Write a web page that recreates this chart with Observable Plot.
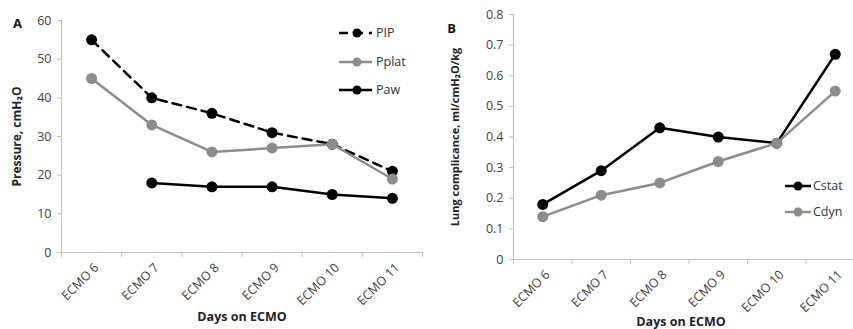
<!DOCTYPE html>
<html><head><meta charset="utf-8">
<script src="https://cdn.jsdelivr.net/npm/d3@7"></script>
<script src="https://cdn.jsdelivr.net/npm/@observablehq/plot@0.6"></script>
<style>
body{margin:0;overflow:hidden;background:#fff;font-family:"Open Sans",sans-serif;}
#wrap{position:relative;width:853px;height:329px;overflow:hidden;background:#fff;}
.panel{position:absolute;top:0;}
.leg{position:absolute;font-size:12.5px;color:#333;display:flex;align-items:center;line-height:14px;}
.leg svg{display:block;margin-right:2px;}
</style></head><body><div id="wrap"></div>
<script>
const days = ["ECMO 6", "ECMO 7", "ECMO 8", "ECMO 9", "ECMO 10", "ECMO 11"];
const pip = [55, 40, 36, 31, 28, 21];
const pplat = [45, 33, 26, 27, 28, 19];
const paw = [null, 18, 17, 17, 15, 14];
const cstat = [0.18, 0.29, 0.43, 0.40, 0.38, 0.67];
const cdyn = [0.14, 0.21, 0.25, 0.32, 0.38, 0.55];
const pressureTicks = [0, 10, 20, 30, 40, 50, 60];
const complianceTicks = [0, 0.1, 0.2, 0.3, 0.4, 0.5, 0.6, 0.7, 0.8];

const BLACK = "#000", GRAY = "#8c8c8c", AXIS = "#bfbfbf", TXT = "#404040";
const FONT = "Open Sans, sans-serif";

function rows(vals) {
  return vals.map((v, i) => ({i, day: days[i], v})).filter(d => d.v != null);
}

function seriesMarks(vals, color, dash) {
  const r = rows(vals);
  return [
    Plot.line(r, {x: d => d.i + 0.5, y: "v", stroke: color, strokeWidth: 2.5, strokeDasharray: dash}),
    Plot.dot(r, {x: d => d.i + 0.5, y: "v", r: 5.5, fill: color})
  ];
}

function frameMarks(ticks, tickFmt) {
  return [
    Plot.ruleX([0], {stroke: AXIS}),
    Plot.ruleY([0], {stroke: AXIS}),
    Plot.axisY({ticks, tickSize: 4, stroke: AXIS, fill: TXT, tickPadding: 6, label: null, tickFormat: tickFmt}),
    Plot.axisX({ticks: d3.range(days.length + 1), tickSize: 5, stroke: AXIS, tickFormat: () => "", label: null}),
    Plot.axisX({ticks: days.map((d, i) => i + 0.5), tickFormat: v => days[Math.floor(v)], tickSize: 0,
      tickRotate: -45, tickPadding: 9, dx: 5, dy: 4, fill: TXT, label: null})
  ];
}

const wrap = document.getElementById("wrap");

const A = Plot.plot({
  width: 430, height: 329, marginLeft: 61, marginTop: 20, marginBottom: 77, marginRight: 8,
  style: {fontFamily: FONT, fontSize: "12.5px", color: TXT, background: "transparent", overflow: "visible"},
  x: {type: "linear", domain: [0, days.length]},
  y: {domain: [0, 60]},
  marks: [
    ...frameMarks(pressureTicks, d => String(d)),
    ...seriesMarks(pip, BLACK, "9,6"),
    ...seriesMarks(pplat, GRAY),
    ...seriesMarks(paw, BLACK),
    Plot.text(["Pressure, cmH₂O"], {text: d => d, frameAnchor: "left", textAnchor: "middle", dx: -44, rotate: -90, fontWeight: "bold", fontSize: 12, fill: "#222"}),
    Plot.text(["Days on ECMO"], {text: d => d, frameAnchor: "bottom", textAnchor: "middle", dy: 68, fontWeight: "bold", fontSize: 12.5, fill: "#222"}),
    Plot.text(["A"], {text: d => d, frameAnchor: "top-left", textAnchor: "middle", dx: -44, dy: -2, fontWeight: "bold", fontSize: 13, fill: "#111"})
  ]
});
A.classList.add("panel"); A.style.left = "0px";
wrap.appendChild(A);

const B = Plot.plot({
  width: 443, height: 329, marginLeft: 90, marginTop: 14, marginBottom: 70, marginRight: 2,
  style: {fontFamily: FONT, fontSize: "12.5px", color: TXT, background: "transparent", overflow: "visible"},
  x: {type: "linear", domain: [0, days.length]},
  y: {domain: [0, 0.8]},
  marks: [
    ...frameMarks(complianceTicks, d => d === 0 ? "0" : d3.format(".1f")(d)),
    ...seriesMarks(cstat, BLACK),
    ...seriesMarks(cdyn, GRAY),
    Plot.text(["Lung complicance, ml/cmH₂O/kg"], {text: d => d, frameAnchor: "left", textAnchor: "middle", dx: -58, rotate: -90, fontWeight: "bold", fontSize: 11, fill: "#222"}),
    Plot.text(["Days on ECMO"], {text: d => d, frameAnchor: "bottom", textAnchor: "middle", dx: -8, dy: 66, fontWeight: "bold", fontSize: 12.5, fill: "#222"}),
    Plot.text(["B"], {text: d => d, frameAnchor: "top-left", textAnchor: "middle", dx: -62, dy: 9, fontWeight: "bold", fontSize: 13, fill: "#111"})
  ]
});
B.classList.add("panel"); B.style.left = "423px";
wrap.appendChild(B);

// legends (HTML, outside the SVGs)
const legA = [
  {name: "PIP", color: BLACK, dash: "9,6"},
  {name: "Pplat", color: GRAY, dash: null},
  {name: "Paw", color: BLACK, dash: null}
];
const legB = [
  {name: "Cstat", color: BLACK, dash: null},
  {name: "Cdyn", color: GRAY, dash: null}
];
function legend(items, left, top, gap, lineW, dotX, labelGap) {
  items.forEach((it, k) => {
    const div = document.createElement("div");
    div.className = "leg";
    div.style.left = left + "px";
    div.style.top = (top + k * gap - 7) + "px";
    const dashAttr = it.dash ? `stroke-dasharray="${it.dash}"` : "";
    div.innerHTML = `<svg width="${lineW + labelGap}" height="14"><line x1="0" x2="${lineW}" y1="7" y2="7" stroke="${it.color}" stroke-width="2.5" ${dashAttr}/><circle cx="${dotX}" cy="7" r="4.5" fill="${it.color}"/></svg><span>${it.name}</span>`;
    wrap.appendChild(div);
  });
}
legend(legA, 339, 33, 28.5, 33, 18, 2);
legend(legB, 785, 186, 26, 26, 13, 0);
</script></body></html>
